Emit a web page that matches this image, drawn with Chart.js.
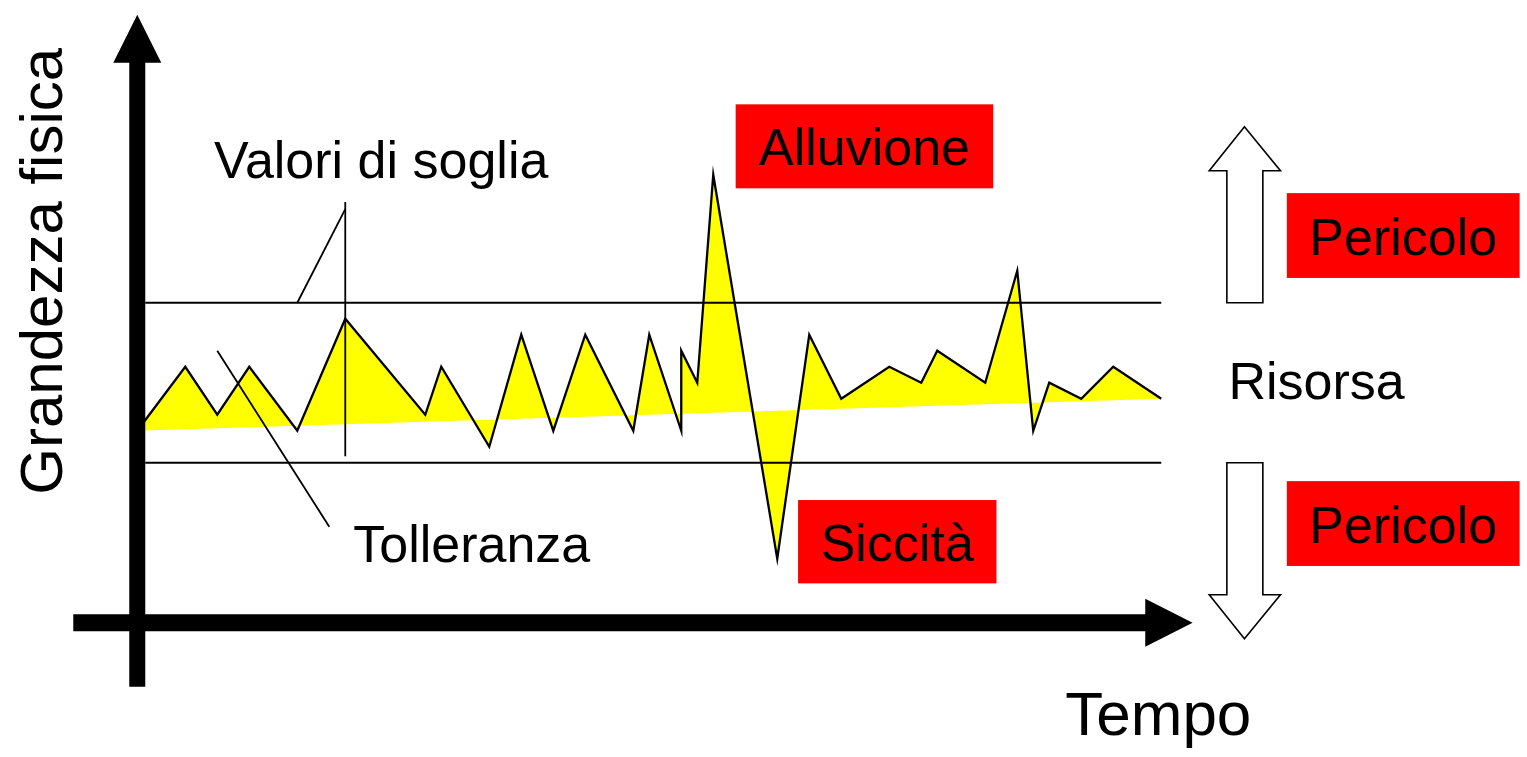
<!DOCTYPE html>
<html lang="it">
<head>
<meta charset="UTF-8">
<title>Grandezza fisica - Tempo</title>
<script src="https://cdn.jsdelivr.net/npm/chart.js"></script>
<style>
  html, body { margin: 0; padding: 0; background: #fff; }
  canvas { display: block; }
</style>
</head>
<body>
<canvas id="risorsaChart" width="1527" height="757"></canvas>

<script>
  // series (time units, quantity units)
  const times  = [0, 3, 5, 7, 10, 13, 18, 19, 22, 24, 26, 28, 31, 32, 34, 34, 35, 36, 40, 42, 44, 47, 49, 50, 53, 55, 56, 57, 59, 61, 64];
  const values = [2, 6, 3, 6, 2, 9, 3, 6, 1, 8, 2, 8, 2, 8, 2, 7, 5, 18, -6, 8, 4, 6, 5, 7, 5, 12, 2, 5, 4, 6, 4];

  // slowly rising mean level (edge of the yellow area)
  const trendTimes  = [0, 64];
  const trendValues = [2, 4];

  // threshold values
  const thresholdTimes = [0.5, 64];
  const upperThreshold = 10;
  const lowerThreshold = 0;

  // pointer lines for the callouts
  const sogliaTimes  = [13, 13];
  const sogliaValues = [16.3, 0.4];
  const sogliaDiagTimes  = [13, 10];
  const sogliaDiagValues = [15.85, 10];
  const tolleranzaTimes  = [5, 12];
  const tolleranzaValues = [7, -4];

  const labels = ['Valori di soglia', 'Tolleranza', 'Risorsa'];
  const boxLabels = ['Alluvione', 'Siccità', 'Pericolo', 'Pericolo'];
  const xTitle = 'Tempo';
  const yTitle = 'Grandezza fisica';

  const FONT = '"Liberation Sans", Arial, sans-serif';

  function toXY(xs, ys) {
    return xs.map((t, i) => ({ x: t, y: ys[i] }));
  }

  // thin black lines, drawn above the yellow area
  const thin = { borderColor: '#000', borderWidth: 1.8, pointRadius: 0, fill: false, tension: 0, clip: false, order: -1 };

  const diagram = {
    id: 'diagram',
    afterDatasetsDraw(chart) {
      const ctx = chart.ctx;
      const sx = chart.scales.x, sy = chart.scales.y;
      const px = t => sx.getPixelForValue(t);
      const py = v => sy.getPixelForValue(v);

      function poly(pts, fill, stroke) {
        ctx.beginPath();
        pts.forEach((p, i) => i ? ctx.lineTo(px(p[0]), py(p[1])) : ctx.moveTo(px(p[0]), py(p[1])));
        ctx.closePath();
        if (fill) { ctx.fillStyle = fill; ctx.fill(); }
        if (stroke) { ctx.strokeStyle = stroke; ctx.lineWidth = 1.6; ctx.stroke(); }
      }

      ctx.save();

      // vertical axis arrow
      poly([[-0.5, -14], [-0.5, 25], [-1.5, 25], [0, 28], [1.5, 25], [0.5, 25], [0.5, -14]], '#000');
      // horizontal axis arrow
      poly([[-4, -10.53], [63, -10.53], [63, -11.5], [65.96, -10], [63, -8.5], [63, -9.47], [-4, -9.47]], '#000');

      // hollow arrows, up and down
      poly([[68.1, 10], [68.1, 18.25], [67.0, 18.25], [69.2, 21], [71.45, 18.25], [70.35, 18.25], [70.35, 10]], '#fff', '#000');
      poly([[68.1, 0], [68.1, -8.25], [67.0, -8.25], [69.2, -11], [71.45, -8.25], [70.35, -8.25], [70.35, 0]], '#fff', '#000');

      // red boxes
      const boxes = [
        { t0: 37.4, t1: 53.5, v0: 22.4, v1: 17.15 },
        { t0: 41.3, t1: 53.7, v0: -2.33, v1: -7.54 },
        { t0: 71.85, t1: 86.4, v0: 16.85, v1: 11.55 },
        { t0: 71.85, t1: 86.4, v0: -1.15, v1: -6.45 }
      ];
      ctx.font = '52px ' + FONT;
      ctx.textAlign = 'center';
      ctx.textBaseline = 'alphabetic';
      boxes.forEach((b, i) => {
        ctx.fillStyle = '#ff0000';
        ctx.fillRect(px(b.t0), py(b.v0), px(b.t1) - px(b.t0), py(b.v1) - py(b.v0));
        ctx.fillStyle = '#000';
        const cx = (px(b.t0) + px(b.t1)) / 2;
        const cy = (py(b.v0) + py(b.v1)) / 2;
        ctx.fillText(boxLabels[i], cx, cy + 19);
      });

      // plain labels
      ctx.textAlign = 'left';
      ctx.fillStyle = '#000';
      ctx.fillText(labels[0], px(4.8), py(17.8));
      ctx.fillText(labels[1], px(13.5), py(-6.19));
      ctx.fillText(labels[2], px(68.2), py(4.0));

      ctx.font = '62px ' + FONT;
      ctx.fillText(xTitle, px(58.0), py(-17.0));

      ctx.font = '60px ' + FONT;
      ctx.translate(px(-4.7), py(-2.0));
      ctx.rotate(-Math.PI / 2);
      ctx.fillText(yTitle, 0, 0);

      ctx.restore();
    }
  };

  new Chart(document.getElementById('risorsaChart'), {
    type: 'line',
    data: {
      datasets: [
        { label: 'trend', data: toXY(trendTimes, trendValues), borderWidth: 0, borderColor: 'rgba(0,0,0,0)', pointRadius: 0, fill: false, tension: 0, order: 2 },
        { label: 'risorsa', data: toXY(times, values), borderColor: '#000', borderWidth: 2.3,
          backgroundColor: '#ffff00', fill: { target: 0, above: '#ffff00', below: '#ffff00' },
          pointRadius: 0, tension: 0, clip: false, borderJoinStyle: 'miter', order: 1 },
        Object.assign({ label: 'soglia sup', data: toXY(thresholdTimes, [upperThreshold, upperThreshold]) }, thin),
        Object.assign({ label: 'soglia inf', data: toXY(thresholdTimes, [lowerThreshold, lowerThreshold]) }, thin),
        Object.assign({ label: 'pointer1', data: toXY(sogliaTimes, sogliaValues) }, thin),
        Object.assign({ label: 'pointer2', data: toXY(sogliaDiagTimes, sogliaDiagValues) }, thin),
        Object.assign({ label: 'pointer3', data: toXY(tolleranzaTimes, tolleranzaValues) }, thin)
      ]
    },
    options: {
      responsive: false,
      devicePixelRatio: 1,
      animation: false,
      layout: { padding: 0 },
      plugins: { legend: { display: false }, tooltip: { enabled: false } },
      scales: {
        x: { type: 'linear', display: false, min: -8.58, max: 86.86 },
        y: { type: 'linear', display: false, min: -18.39, max: 28.92 }
      }
    },
    plugins: [diagram]
  });
</script>
</body>
</html>
